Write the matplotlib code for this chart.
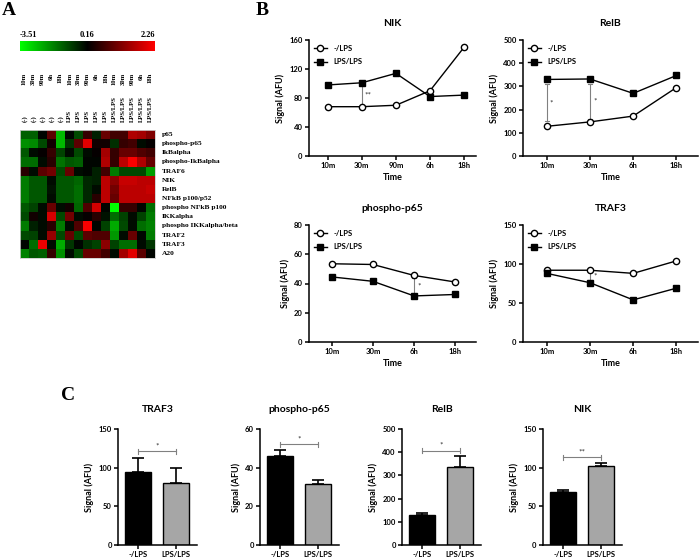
import numpy as np
import matplotlib
matplotlib.use("Agg")
import matplotlib.pyplot as plt
from matplotlib.colors import LinearSegmentedColormap, TwoSlopeNorm

plt.rcParams['font.family'] = ['Lato', 'DejaVu Sans']

# heatmap (panel A)
heat_rows = ["p65", "phospho-p65", "IkBalpha", "phospho-IkBalpha", "TRAF6", "NIK", "RelB",
             "NFkB p100/p52", "phospho NFkB p100", "IKKalpha", "phospho IKKalpha/beta",
             "TRAF2", "TRAF3", "A20"]
heat_times = ["10m", "30m", "90m", "6h", "18h"] * 3
heat_conds = ["(-)"] * 5 + ["LPS"] * 5 + ["LPS/LPS"] * 5
heat_values = [
    [-1.2, -1.2, 0.1, 0.9, -2.5, 0.1, -0.9, 0.6, -0.3, 1.0, 0.7, 0.7, 1.6, 1.5, 1.2],
    [-1.9, -1.8, -0.9, 0.3, -2.5, -0.6, 0.9, 2.0, 0.3, 0.3, -0.5, 0.6, 0.7, 0.0, 0.2],
    [-1.1, 0.0, 0.2, 0.6, -0.8, 0.0, -0.9, 0.0, 0.2, 1.5, 0.6, 1.0, 1.0, 0.8, 0.7],
    [-1.4, -1.4, 0.0, 0.5, -1.5, -1.1, -1.2, 0.1, 0.1, 1.6, 0.6, 1.7, 2.2, 1.6, 1.0],
    [0.5, 0.0, 0.9, 1.1, -0.9, 1.0, 0.0, 0.1, -0.3, 0.7, -1.6, -0.9, -0.9, -0.9, -2.1],
    [-1.6, -1.1, -1.1, 0.0, -1.1, -1.1, -1.3, -0.4, -0.3, 1.7, 1.3, 1.8, 1.8, 1.7, 1.7],
    [-1.6, -1.1, -1.1, -0.1, -1.1, -1.1, -1.4, -0.4, 0.0, 1.7, 1.1, 1.7, 1.7, 1.7, 1.8],
    [-1.6, -1.1, -1.1, 0.0, -1.1, -1.1, -1.4, -0.4, 0.5, 1.7, 1.0, 1.7, 1.7, 1.7, 1.7],
    [-1.1, -0.8, 0.0, 1.0, 0.0, 0.3, -1.3, 0.8, 1.9, 0.1, -3.51, 0.6, 0.6, 0.1, -1.4],
    [-0.9, 0.3, 0.0, 1.9, -0.9, 1.1, 0.0, 0.2, 0.5, -0.1, -1.4, -0.8, 0.0, -0.8, -1.6],
    [-1.6, -0.3, 0.0, 0.5, -1.6, 0.0, 0.8, 2.2, 0.1, -0.8, -2.3, -0.9, 0.0, -1.4, -1.7],
    [-0.9, -0.8, 0.0, 1.4, -0.9, 1.0, -0.9, 0.9, 0.8, 0.8, -2.0, 0.0, 1.0, 0.1, -1.6],
    [0.1, -1.4, 2.1, 0.0, -2.3, -0.6, 0.1, -0.5, -0.8, 1.3, -0.8, -1.4, -1.4, 0.0, -0.6],
    [-1.7, -1.1, -1.2, 0.6, -1.9, 0.0, -0.9, 1.0, 1.0, 0.7, 0.0, 1.5, 2.0, 0.9, 0.1],
]
scale_min, scale_mid, scale_max = -3.51, 0.16, 2.26

# time courses (panel B)
nik_times = ["10m", "30m", "90m", "6h", "18h"]
nik_ctrl = [68, 68, 70, 90, 150]
nik_lps = [98, 101, 114, 82, 84]
nik_sig = [(1, 68, 101, "**")]

relb_times = ["10m", "30m", "6h", "18h"]
relb_ctrl = [128, 147, 172, 295]
relb_lps = [330, 332, 270, 347]
relb_sig = [(0, 150, 310, "*"), (1, 160, 312, "*")]

pp65_times = ["10m", "30m", "6h", "18h"]
pp65_ctrl = [53.5, 53, 45.5, 41]
pp65_lps = [44.5, 41.5, 31.5, 32.5]
pp65_sig = [(2, 33, 44, "*")]

traf3_times = ["10m", "30m", "6h", "18h"]
traf3_ctrl = [92, 92, 88, 104]
traf3_lps = [88, 76, 54, 69]
traf3_sig = [(1, 79, 90, "*")]

# bar summaries (panel C)
bar_groups = ["-/LPS", "LPS/LPS"]
c_traf3 = [95, 80]
c_traf3_err = [18, 19]
c_pp65 = [46, 31.5]
c_pp65_err = [3, 2]
c_relb = [130, 335]
c_relb_err = [7, 47]
c_nik = [69, 102]
c_nik_err = [1.5, 4]

W, H = 700, 560


def px_rect(left, top, right, bottom):
    return [left / W, 1 - bottom / H, (right - left) / W, (bottom - top) / H]


def style_ax(ax):
    ax.spines['top'].set_visible(False)
    ax.spines['right'].set_visible(False)
    ax.spines['left'].set_linewidth(1.1)
    ax.spines['bottom'].set_linewidth(1.1)
    ax.tick_params(width=1.1, length=3, labelsize=5.5, pad=1.5)
    for lab in ax.get_xticklabels() + ax.get_yticklabels():
        lab.set_fontweight('bold')


fig = plt.figure(figsize=(7, 5.6), dpi=100)

serif = dict(family='Liberation Serif', weight='bold')
fig.text(2 / W, 1 - 2 / H, "A", va='top', ha='left', fontsize=14, **serif)
fig.text(256 / W, 1 - 2 / H, "B", va='top', ha='left', fontsize=14, **serif)
fig.text(61 / W, 1 - 387 / H, "C", va='top', ha='left', fontsize=14, **serif)

# panel A
cmap = LinearSegmentedColormap.from_list("gbr", [(0, 1, 0), (0, 0, 0), (1, 0, 0)])
norm = TwoSlopeNorm(vmin=scale_min, vcenter=scale_mid, vmax=scale_max)

cax = fig.add_axes(px_rect(20, 41, 155, 51))
cax.imshow(np.linspace(0, 1, 256)[None, :], cmap=cmap, aspect='auto')
cax.axis('off')
fig.text(20 / W, 1 - 39 / H, f"{scale_min:.2f}", ha='left', va='bottom', fontsize=6, **serif)
fig.text(87.5 / W, 1 - 39 / H, f"{scale_mid:.2f}", ha='center', va='bottom', fontsize=6, **serif)
fig.text(155 / W, 1 - 39 / H, f"{scale_max:.2f}", ha='right', va='bottom', fontsize=6, **serif)

hax = fig.add_axes(px_rect(20, 130, 155, 258))
hax.imshow(np.array(heat_values), cmap=cmap, norm=norm, aspect='auto', interpolation='nearest')
hax.set_xticks([])
hax.set_yticks([])
for s in hax.spines.values():
    s.set_color('#cccccc')
    s.set_linewidth(0.6)
for i in range(len(heat_times)):
    hax.text(i, -6.8, heat_times[i], rotation=90, ha='center', va='top', fontsize=4.8, **serif)
    hax.text(i, -1.4, heat_conds[i], rotation=90, ha='center', va='bottom', fontsize=4.8, **serif)
for r, name in enumerate(heat_rows):
    hax.text(15.3, r, name, ha='left', va='center', fontsize=5.3, **serif)


# panel B
def line_panel(rect, title, times, ctrl, lps, ymax, ystep, sig, xright):
    ax = fig.add_axes(rect)
    x = np.arange(len(times))
    ax.plot(x, ctrl, '-o', color='black', mfc='white', mew=1, ms=4.5, lw=1, label='-/LPS')
    ax.plot(x, lps, '-s', color='black', ms=4.5, lw=1, label='LPS/LPS')
    for i, lo, hi, txt in sig:
        ax.plot([i, i], [lo, hi], color='gray', lw=0.8, zorder=1)
        ax.plot([i - 0.05, i + 0.05], [lo, lo], color='gray', lw=0.8, zorder=1)
        ax.plot([i - 0.05, i + 0.05], [hi, hi], color='gray', lw=0.8, zorder=1)
        ax.text(i + 0.07, (lo + hi) / 2, txt, fontsize=6, va='center', ha='left', color='#333333')
    ax.set_xlim(-0.55, xright)
    ax.set_ylim(0, ymax)
    ax.set_yticks(np.arange(0, ymax + 1, ystep))
    ax.set_xticks(x)
    ax.set_xticklabels(times)
    ax.set_title(title, fontsize=7.5, fontweight='bold', pad=10)
    ax.set_xlabel("Time", fontsize=6.5, fontweight='bold', labelpad=3)
    ax.set_ylabel("Signal (AFU)", fontsize=6.5, fontweight='bold', labelpad=3)
    ax.legend(loc='upper left', frameon=False, handlelength=1.8,
              borderaxespad=0.2, labelspacing=0.9, prop={'weight': 'bold', 'size': 5.5})
    style_ax(ax)
    return ax


line_panel(px_rect(309, 40, 476, 156), "NIK", nik_times, nik_ctrl, nik_lps, 160, 40, nik_sig, 4.35)
line_panel(px_rect(523, 40, 698, 156), "RelB", relb_times, relb_ctrl, relb_lps, 500, 100, relb_sig, 3.5)
line_panel(px_rect(309, 225, 476, 342), "phospho-p65", pp65_times, pp65_ctrl, pp65_lps, 80, 20, pp65_sig, 3.5)
line_panel(px_rect(523, 225, 698, 342), "TRAF3", traf3_times, traf3_ctrl, traf3_lps, 150, 50, traf3_sig, 3.5)


# panel C
def bar_panel(left, title, vals, errs, ymax, ystep, sig_y, stars):
    ax = fig.add_axes(px_rect(left, 429, left + 79, 545))
    x = np.arange(len(bar_groups))
    ax.bar(x, vals, width=0.68, color=['black', '#a6a6a6'], edgecolor='black', linewidth=1)
    ax.errorbar(x, vals, yerr=[[0, 0], errs], fmt='none', ecolor='black', elinewidth=1.2,
                capsize=4, capthick=1.2)
    ax.plot([0, 1], [sig_y, sig_y], color='gray', lw=0.8)
    ax.plot([0, 0], [sig_y - ymax * 0.02, sig_y + ymax * 0.02], color='gray', lw=0.8)
    ax.plot([1, 1], [sig_y - ymax * 0.02, sig_y + ymax * 0.02], color='gray', lw=0.8)
    ax.text(0.5, sig_y + ymax * 0.015, stars, ha='center', va='bottom', fontsize=6, color='#333333')
    ax.set_xlim(-0.53, 1.55)
    ax.set_ylim(0, ymax)
    ax.set_yticks(np.arange(0, ymax + 1, ystep))
    ax.set_xticks(x)
    ax.set_xticklabels(bar_groups)
    ax.set_title(title, fontsize=7.5, fontweight='bold', pad=12)
    ax.set_ylabel("Signal (AFU)", fontsize=6.5, fontweight='bold', labelpad=3)
    style_ax(ax)


bar_panel(118, "TRAF3", c_traf3, c_traf3_err, 150, 50, 121, "*")
bar_panel(260, "phospho-p65", c_pp65, c_pp65_err, 60, 20, 52, "*")
bar_panel(402, "RelB", c_relb, c_relb_err, 500, 100, 407, "*")
bar_panel(543, "NIK", c_nik, c_nik_err, 150, 50, 113.5, "**")

fig.savefig("out.png", dpi=100)
